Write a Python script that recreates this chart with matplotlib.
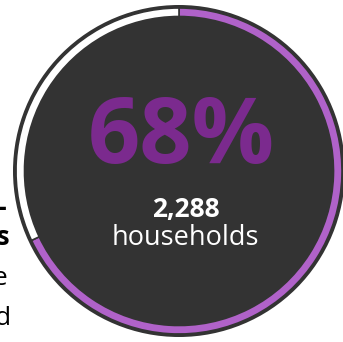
import matplotlib
matplotlib.use("Agg")
import matplotlib.pyplot as plt
from matplotlib.patches import Circle

# chart values
share = [68, 32]            # percent of households, remainder
share_colors = ["#B062C9", "#FFFFFF"]
pct_label = "68%"
count_label = "2,288"
unit_label = "households"
# side caption (mostly cut off at the left edge of the picture)
side_lines = ["Low-", "income households", "that are", "cost-burdened"]
side_bold = [True, True, False, False]

W, H = 343, 342
fig = plt.figure(figsize=(W / 100, H / 100), dpi=100)
fig.patch.set_facecolor("white")
ax = fig.add_axes([0, 0, 1, 1])

cx, cy, R = 179, 171, 166
ax.add_patch(Circle((cx, cy), R, facecolor="#333333", edgecolor="none", zorder=1))

wedges, _ = ax.pie(share, colors=share_colors, startangle=90, counterclock=False,
                   center=(cx, cy), radius=R - 3,
                   wedgeprops=dict(width=8.5, edgecolor="#333333", linewidth=1.2))
for w in wedges:
    w.set_zorder(2)

ax.set_xlim(0, W)
ax.set_ylim(0, H)
ax.set_aspect("equal")
ax.axis("off")

ax.text(181, 179, pct_label, color="#7B2A8E", fontsize=66, fontweight="bold",
        family="Open Sans", ha="center", va="baseline", zorder=3)
ax.text(186, 125, count_label, color="white", fontsize=19, fontweight="bold",
        family="Open Sans", ha="center", va="baseline", zorder=3)
ax.text(185, 97, unit_label, color="white", fontsize=19.5,
        family="Open Sans", ha="center", va="baseline", zorder=3)

# left caption, right-aligned so only its last letters show
side_x = [7, 10, 8, 12]
side_y = [126, 97, 57, 17]
for s, b, x, y in zip(side_lines, side_bold, side_x, side_y):
    ax.text(x, y, s, color="black", fontsize=19, family="Open Sans",
            fontweight="bold" if b else "normal", ha="right", va="baseline")

fig.savefig("out.png", dpi=100, facecolor="white")
